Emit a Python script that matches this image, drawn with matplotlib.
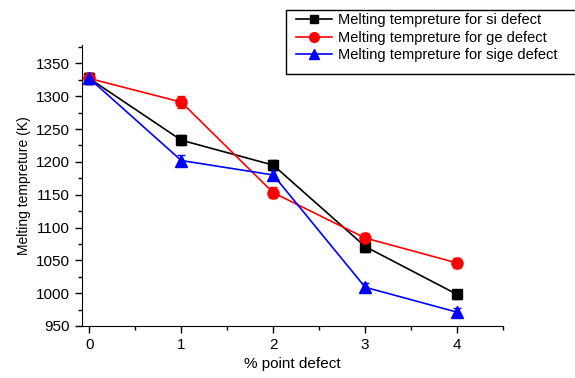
import matplotlib.pyplot as plt
from matplotlib.lines import Line2D
from matplotlib.patches import Rectangle
from matplotlib.ticker import MultipleLocator

plt.rcParams['font.family'] = ['Liberation Sans', 'DejaVu Sans']

defect = [0, 1, 2, 3, 4]
si_temp = [1327, 1233, 1195, 1071, 998]
ge_temp = [1327, 1291, 1153, 1084, 1046]
sige_temp = [1327, 1202, 1180, 1009, 971]
si_err = [9, 8, 8, 8, 7]
ge_err = [9, 9, 8, 8, 7]
sige_err = [9, 8, 7, 7, 6]
labels = ['Melting tempreture for si defect',
          'Melting tempreture for ge defect',
          'Melting tempreture for sige defect']

fig = plt.figure(figsize=(5.75, 3.78), dpi=100)
ax = fig.add_axes([0.1426, 0.1376, 0.7324, 0.7434])

styles = [('black', 's', 7), ('red', 'o', 8), ('blue', '^', 8)]
series = [(si_temp, si_err), (ge_temp, ge_err), (sige_temp, sige_err)]
handles = []
for (vals, err), (col, mk, ms), lab in zip(series, styles, labels):
    ax.errorbar(defect, vals, yerr=err, color=col, marker=mk, ms=ms,
                lw=1.2, capsize=3)
    handles.append(Line2D([], [], color=col, marker=mk, ms=ms - 1, lw=1.2))

ax.set_xlim(-0.08, 4.5)
ax.set_ylim(950, 1378)
ax.xaxis.set_major_locator(MultipleLocator(1))
ax.xaxis.set_minor_locator(MultipleLocator(0.5))
ax.yaxis.set_major_locator(MultipleLocator(50))
ax.yaxis.set_minor_locator(MultipleLocator(25))
ax.tick_params(which='major', direction='out', length=5, width=1, labelsize=11)
ax.tick_params(which='minor', direction='out', length=3, width=1)
ax.spines['top'].set_visible(False)
ax.spines['right'].set_visible(False)

ax.set_xlabel('% point defect', fontsize=11)
ax.set_ylabel('Melting tempreture (K)', fontsize=10)

# legend box runs off the right edge of the figure
fig.patches.append(Rectangle((286 / 575, 1 - 74 / 378), 300 / 575, 64 / 378,
                             transform=fig.transFigure, fill=False,
                             edgecolor='black', lw=1))
fig.legend(handles, labels, loc='upper left',
           bbox_to_anchor=(296 / 575, 1 - 13 / 378), fontsize=10.5,
           frameon=False, handlelength=2.5, handletextpad=0.4,
           borderaxespad=0, borderpad=0, labelspacing=0.25)

fig.savefig('out.png', dpi=100)
